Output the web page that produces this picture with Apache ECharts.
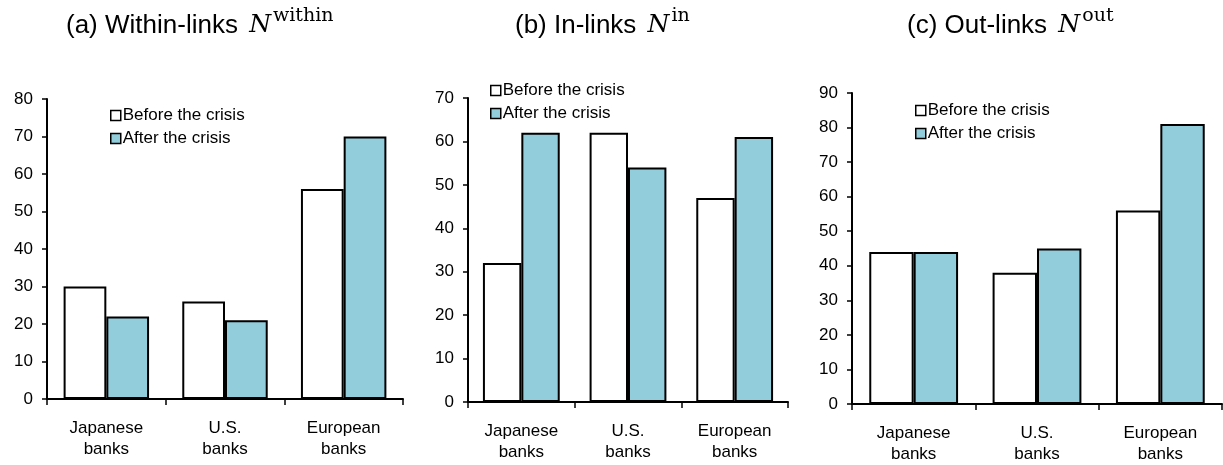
<!DOCTYPE html>
<html>
<head>
<meta charset="utf-8">
<script src="https://cdn.jsdelivr.net/npm/echarts@6/dist/echarts.min.js"></script>
<style>
  html, body { margin: 0; padding: 0; background: #fff; }
  #chart { width: 1223px; height: 465px; }
</style>
</head>
<body>
<div id="chart"></div>
<script>
// data
const banks = ['Japanese\nbanks', 'U.S.\nbanks', 'European\nbanks'];
const seriesNames = ['Before the crisis', 'After the crisis'];
const withinBefore = [30, 26, 56];
const withinAfter = [22, 21, 70];
const inBefore = [32, 62, 47];
const inAfter = [62, 54, 61];
const outBefore = [44, 38, 56];
const outAfter = [44, 45, 81];
const yMax = [80, 70, 90];
const titleLabels = ['(a) Within-links', '(b) In-links', '(c) Out-links'];
const titleSups = ['within', 'in', 'out'];

const values = [[withinBefore, withinAfter], [inBefore, inAfter], [outBefore, outAfter]];

// layout of the three panels
const grids = [
  { left: 47, top: 99, width: 356, height: 300 },
  { left: 468, top: 98, width: 320, height: 304 },
  { left: 852, top: 93, width: 370, height: 311 },
];
const titlePos = [66, 515, 907];
const legendPos = [[110, 107], [490, 82], [915, 102]];

const SANS = '"Liberation Sans", Arial, sans-serif';
const SERIF = '"DejaVu Serif", serif';
const barColors = ['#ffffff', '#92cddc'];

const chart = echarts.init(document.getElementById('chart'));

const option = {
  animation: false,
  textStyle: { fontFamily: SANS, color: '#000' },
  title: titleLabels.map((t, i) => ({
    text: '{m|' + t + ' }{n|N}{s|' + titleSups[i] + '}',
    left: titlePos[i],
    top: 7,
    padding: 0,
    textStyle: {
      fontWeight: 'normal',
      rich: {
        m: { fontFamily: SANS, fontWeight: 'normal', fontSize: 26, color: '#000' },
        n: { fontFamily: SERIF, fontWeight: 'normal', fontStyle: 'italic', fontSize: 25, color: '#000', padding: [0, 0, 0, 4] },
        s: { fontFamily: SERIF, fontWeight: 'normal', fontSize: 19, color: '#000', padding: [0, 0, 18, 2] },
      },
    },
  })),
  legend: legendPos.map((p) => ({
    data: seriesNames,
    orient: 'vertical',
    left: p[0],
    top: p[1],
    padding: 0,
    itemWidth: 10,
    itemHeight: 10,
    itemGap: 6,
    icon: 'rect',
    itemStyle: { borderColor: '#000', borderWidth: 1.5 },
    textStyle: { fontFamily: SANS, fontSize: 17, color: '#000', padding: [0, 0, 0, -3] },
  })),
  grid: grids.map((g) => Object.assign({ containLabel: false, outerBoundsMode: 'none' }, g)),
  xAxis: grids.map((g, i) => ({
    type: 'category',
    gridIndex: i,
    data: banks,
    axisLine: { lineStyle: { color: '#000', width: 2 } },
    axisTick: { show: true, length: 6, lineStyle: { color: '#000', width: 1.5 } },
    axisLabel: {
      interval: 0,
      margin: 19,
      fontSize: 17,
      lineHeight: 21,
      color: '#000',
      fontFamily: SANS,
    },
  })),
  yAxis: grids.map((g, i) => ({
    type: 'value',
    gridIndex: i,
    min: 0,
    max: yMax[i],
    interval: 10,
    splitLine: { show: false },
    axisLine: { show: true, lineStyle: { color: '#000', width: 2 } },
    axisTick: { show: true, length: 5, lineStyle: { color: '#000', width: 1.5 } },
    axisLabel: { margin: 14, fontSize: 17, color: '#000', fontFamily: SANS },
  })),
  series: [],
};

values.forEach((pair, i) => {
  pair.forEach((vals, j) => {
    option.series.push({
      type: 'bar',
      name: seriesNames[j],
      xAxisIndex: i,
      yAxisIndex: i,
      data: vals,
      barWidth: '36%',
      barGap: '0%',
      itemStyle: { color: barColors[j], borderColor: '#000', borderWidth: 2 },
    });
  });
});

chart.setOption(option);
</script>
</body>
</html>
